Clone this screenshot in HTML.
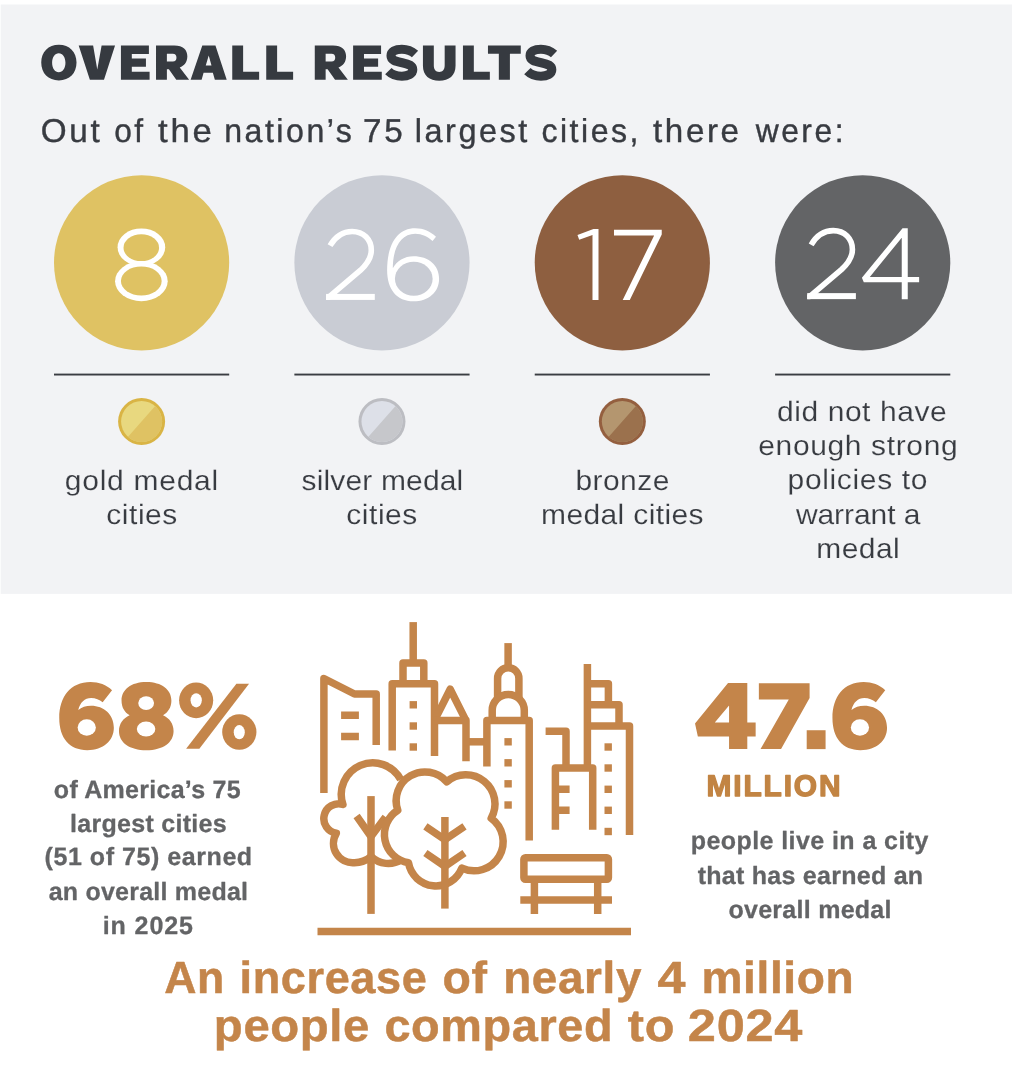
<!DOCTYPE html>
<html><head><meta charset="utf-8"><title>Overall Results</title>
<style>
html,body{margin:0;padding:0;}
body{width:1012px;height:1074px;position:relative;background:#fff;overflow:hidden;font-family:"Liberation Sans",sans-serif;}
svg{position:absolute;left:0;top:0;will-change:transform;}
text{font-family:"Liberation Sans",sans-serif;text-rendering:geometricPrecision;white-space:pre;}
</style></head><body>
<svg width="1012" height="1074" viewBox="0 0 1012 1074">
<title>OVERALL RESULTS</title>
<desc>OVERALL RESULTS. 8 gold medal cities, 26 silver medal cities, 17 bronze medal cities, 24 did not have enough strong policies to warrant a medal. 68% of America’s 75 largest cities earned an overall medal in 2025. 47.6 MILLION people live in a city that has earned an overall medal.</desc>
<rect x="0.7" y="4.5" width="1011.3" height="589.4" fill="#f2f3f5"/>
<circle cx="141.6" cy="262.8" r="87.6" fill="#dfc263"/>
<circle cx="381.97" cy="262.8" r="87.6" fill="#c9ccd4"/>
<circle cx="622.33" cy="262.8" r="87.6" fill="#8e5f40"/>
<circle cx="862.7" cy="262.8" r="87.6" fill="#636466"/>
<rect x="54.00" y="373.6" width="175.2" height="1.9" fill="#3a3d42"/>
<rect x="294.37" y="373.6" width="175.2" height="1.9" fill="#3a3d42"/>
<rect x="534.73" y="373.6" width="175.2" height="1.9" fill="#3a3d42"/>
<rect x="775.10" y="373.6" width="175.2" height="1.9" fill="#3a3d42"/>
<circle cx="141.6" cy="421.5" r="23.5" fill="#d9b445"/>
<clipPath id="mc141"><circle cx="141.6" cy="421.5" r="20.5"/></clipPath>
<g clip-path="url(#mc141)"><rect x="111.6" y="391.5" width="60" height="60" fill="#e8d87f"/><polygon points="181.90,375.70 201.6,381.5 201.6,481.5 81.6,481.5 102.90,465.30" fill="#dfc263"/></g>
<circle cx="381.97" cy="421.5" r="23.5" fill="#bcbdc2"/>
<clipPath id="mc381"><circle cx="381.97" cy="421.5" r="20.5"/></clipPath>
<g clip-path="url(#mc381)"><rect x="351.97" y="391.5" width="60" height="60" fill="#dde0e8"/><polygon points="422.27,375.70 441.97,381.5 441.97,481.5 321.97,481.5 343.27,465.30" fill="#c6c7cb"/></g>
<circle cx="622.33" cy="421.5" r="23.5" fill="#945f3f"/>
<clipPath id="mc622"><circle cx="622.33" cy="421.5" r="20.5"/></clipPath>
<g clip-path="url(#mc622)"><rect x="592.33" y="391.5" width="60" height="60" fill="#b4966f"/><polygon points="662.63,375.70 682.33,381.5 682.33,481.5 562.33,481.5 583.63,465.30" fill="#9b714d"/></g>
<ellipse cx="141.38" cy="247.24" rx="23.81" ry="18.86" fill="#fff"/>
<ellipse cx="141.38" cy="281.23" rx="26.32" ry="19.91" fill="#fff"/>
<ellipse cx="141.30" cy="247.66" rx="17.77" ry="13.41" fill="#dfc263"/>
<ellipse cx="141.30" cy="281.02" rx="20.37" ry="14.50" fill="#dfc263"/>
<clipPath id="two1"><rect x="326.09" y="215.81" width="56.13" height="84.11"/></clipPath><path d="M 330.04,245.69 C 335.10,236.84 343.00,231.46 352.17,231.46 C 363.56,231.46 371.30,239.53 371.30,250.28 C 371.30,258.18 367.19,264.03 360.55,270.20 L 330.83,295.34 L 323.40,301.66" fill="none" stroke="#fff" stroke-width="5.6" stroke-linecap="butt" clip-path="url(#two1)"/><rect x="326.09" y="293.91" width="48.70" height="6.01" fill="#fff"/>
<path d="M 435.99,236.76 C 430.29,231.32 423.59,228.21 415.21,228.21 C 396.76,228.21 387.12,245.15 387.12,270.29 C 387.12,289.57 396.76,301.31 413.53,301.31 C 428.62,301.31 439.09,292.09 439.09,278.68 C 439.09,265.26 428.62,256.21 413.53,256.21 C 404.31,256.21 396.76,261.07 392.82,268.20 C 392.82,247.66 400.96,233.83 415.21,233.83 C 421.91,233.83 427.78,236.76 432.56,241.12 Z" fill="#fff"/>
<ellipse cx="413.78" cy="278.76" rx="18.86" ry="17.10" fill="#c9ccd4"/>
<polygon points="577.47,235.10 593.44,228.93 598.50,228.93 598.50,299.92 592.49,299.92 592.49,235.10 579.21,239.84" fill="#fff"/>
<polygon points="613.99,229.72 661.74,229.72 661.74,234.47 629.80,299.92 622.69,299.92 654.15,235.57 613.99,235.57" fill="#fff"/>
<clipPath id="two2"><rect x="807.19" y="215.02" width="56.13" height="84.11"/></clipPath><path d="M 811.15,244.90 C 816.21,236.05 824.11,230.67 833.28,230.67 C 844.66,230.67 852.41,238.74 852.41,249.49 C 852.41,257.39 848.30,263.24 841.66,269.41 L 811.94,294.55 L 804.51,300.87" fill="none" stroke="#fff" stroke-width="5.6" stroke-linecap="butt" clip-path="url(#two2)"/><rect x="807.19" y="293.12" width="48.70" height="6.01" fill="#fff"/>
<path d="M 902.53,228.14 L 907.75,228.14 L 907.75,277.00 L 919.13,277.00 L 919.13,282.21 L 907.75,282.21 L 907.75,299.13 L 901.74,299.13 L 901.74,282.21 L 863.79,282.21 L 861.90,277.79 Z M 901.74,237.63 L 901.74,277.00 L 869.80,277.00 Z" fill="#fff" fill-rule="evenodd"/>
<path d="M 112.04,690.16 C 106.52,685.02 98.81,682.06 90.46,682.06 C 70.55,682.06 59.25,696.84 59.25,718.03 C 59.25,737.94 69.27,750.14 87.25,750.14 C 103.31,750.14 113.84,740.51 113.84,727.67 C 113.84,714.82 103.95,705.83 91.10,705.83 C 85.97,705.83 81.47,707.37 78.26,709.94 C 80.19,702.62 84.68,698.12 91.10,698.12 C 95.60,698.12 99.45,700.05 102.67,702.36 Z" fill="#c4854a"/><ellipse cx="86.74" cy="727.47" rx="9.12" ry="8.16" fill="#fff"/>
<path d="M 146.34,682.06 C 161.75,682.06 171.39,689.77 171.39,700.69 C 171.39,707.11 168.18,712.25 163.04,715.21 C 169.46,718.03 173.57,723.81 173.57,730.88 C 173.57,742.44 163.04,750.14 146.34,750.14 C 129.64,750.14 118.98,742.44 118.98,730.88 C 118.98,723.81 123.22,718.03 129.64,715.21 C 124.50,712.25 121.55,707.11 121.55,700.69 C 121.55,689.77 130.92,682.06 146.34,682.06 Z" fill="#c4854a"/>
<ellipse cx="146.15" cy="703.07" rx="7.90" ry="6.87" fill="#fff"/>
<ellipse cx="146.08" cy="728.95" rx="9.25" ry="7.45" fill="#fff"/>
<ellipse cx="196.14" cy="700.30" rx="17.05" ry="17.89" fill="#c4854a"/><ellipse cx="196.19" cy="700.35" rx="5.63" ry="7.07" fill="#fff"/>
<ellipse cx="239.32" cy="732.02" rx="17.14" ry="17.79" fill="#c4854a"/><ellipse cx="239.27" cy="732.16" rx="5.53" ry="7.07" fill="#fff"/>
<polygon points="236.40,683.70 249.05,683.70 199.35,748.81 186.11,748.81" fill="#c4854a"/>
<path d="M 728.03,682.96 L 747.30,682.96 L 747.30,722.53 L 755.65,722.53 L 755.65,736.40 L 747.30,736.40 L 747.30,749.12 L 729.06,749.12 L 729.06,736.40 L 697.85,736.40 L 695.02,723.55 Z M 729.06,705.57 L 729.06,722.53 L 714.80,722.53 Z" fill="#c4854a" fill-rule="evenodd"/>
<polygon points="758.86,683.35 809.60,683.35 809.60,698.12 781.08,749.12 760.53,749.12 788.79,699.41 758.86,699.41" fill="#c4854a"/>
<polygon points="806.70,730.23 825.58,730.23 825.58,749.12 806.70,749.12" fill="#c4854a"/>
<path d="M 885.24,690.16 C 879.72,685.02 872.01,682.06 863.66,682.06 C 843.75,682.06 832.45,696.84 832.45,718.03 C 832.45,737.94 842.47,750.14 860.45,750.14 C 876.51,750.14 887.04,740.51 887.04,727.67 C 887.04,714.82 877.15,705.83 864.30,705.83 C 859.17,705.83 854.67,707.37 851.46,709.94 C 853.39,702.62 857.88,698.12 864.30,698.12 C 868.80,698.12 872.65,700.05 875.87,702.36 Z" fill="#c4854a"/><ellipse cx="859.94" cy="727.47" rx="9.12" ry="8.16" fill="#fff"/>
<path d="M 323.9,792.9 L 323.9,678.5 L 354.5,694 L 376.2,694 L 376.2,745" fill="none" stroke="#c4854a" stroke-width="7.5" stroke-linejoin="round" stroke-linecap="butt" />
<path d="M 341.1,715.3 L 358.9,715.3 M 341.1,736.6 L 358.9,736.6" fill="none" stroke="#c4854a" stroke-width="7.5" stroke-linejoin="round" stroke-linecap="butt" />
<path d="M 413.2,622.1 L 413.2,663" fill="none" stroke="#c4854a" stroke-width="7.5" stroke-linejoin="round" stroke-linecap="butt" />
<path d="M 403,683.8 L 403,663 L 423.8,663 L 423.8,683.8" fill="none" stroke="#c4854a" stroke-width="7.5" stroke-linejoin="round" stroke-linecap="butt" />
<path d="M 392.2,750.5 L 392.2,683.8 L 434.5,683.8 L 434.5,755.9" fill="none" stroke="#c4854a" stroke-width="7.5" stroke-linejoin="round" stroke-linecap="butt" />
<rect x="409.60" y="701.10" width="7.4" height="7.4" fill="#c4854a"/>
<rect x="409.60" y="722.30" width="7.4" height="7.4" fill="#c4854a"/>
<rect x="409.60" y="743.30" width="7.4" height="7.4" fill="#c4854a"/>
<path d="M 434.4,720.6 L 450.2,689.2 L 466,720.6" fill="none" stroke="#c4854a" stroke-width="7.5" stroke-linejoin="round" stroke-linecap="butt" />
<path d="M 434.5,720.6 L 466,720.6 L 466,761.2" fill="none" stroke="#c4854a" stroke-width="7.5" stroke-linejoin="round" stroke-linecap="butt" />
<path d="M 466,741.8 L 486.9,741.8" fill="none" stroke="#c4854a" stroke-width="7.5" stroke-linejoin="round" stroke-linecap="butt" />
<path d="M 508.1,643.1 L 508.1,667.5" fill="none" stroke="#c4854a" stroke-width="7.5" stroke-linejoin="round" stroke-linecap="butt" />
<path d="M 497.6,698.3 L 497.6,678.5 A 10.65 10.65 0 0 1 518.9,678.5 L 518.9,698.3" fill="none" stroke="#c4854a" stroke-width="7.5" stroke-linejoin="round" stroke-linecap="butt" />
<path d="M 492.2,720.6 L 492.2,710.5 A 16.05 16.05 0 0 1 524.3,710.5 L 524.3,720.6" fill="none" stroke="#c4854a" stroke-width="7.5" stroke-linejoin="round" stroke-linecap="butt" />
<path d="M 486.9,766.5 L 486.9,720.6 L 529.2,720.6 L 529.2,840.4" fill="none" stroke="#c4854a" stroke-width="7.5" stroke-linejoin="round" stroke-linecap="butt" />
<rect x="504.40" y="738.10" width="7.4" height="7.4" fill="#c4854a"/>
<rect x="504.40" y="759.10" width="7.4" height="7.4" fill="#c4854a"/>
<rect x="504.40" y="780.10" width="7.4" height="7.4" fill="#c4854a"/>
<rect x="504.40" y="801.30" width="7.4" height="7.4" fill="#c4854a"/>
<path d="M 545.6,731.3 L 566,731.3 L 566,768" fill="none" stroke="#c4854a" stroke-width="7.5" stroke-linejoin="round" stroke-linecap="butt" />
<path d="M 587.4,663.9 L 587.4,768" fill="none" stroke="#c4854a" stroke-width="7.5" stroke-linejoin="round" stroke-linecap="butt" />
<path d="M 587.4,683.8 L 608.4,683.8 L 608.4,704.8" fill="none" stroke="#c4854a" stroke-width="7.5" stroke-linejoin="round" stroke-linecap="butt" />
<path d="M 587.4,704.8 L 619,704.8 L 619,726" fill="none" stroke="#c4854a" stroke-width="7.5" stroke-linejoin="round" stroke-linecap="butt" />
<path d="M 587.4,726 L 629.5,726 L 629.5,835" fill="none" stroke="#c4854a" stroke-width="7.5" stroke-linejoin="round" stroke-linecap="butt" />
<rect x="604.50" y="743.30" width="7.4" height="7.4" fill="#c4854a"/>
<rect x="604.50" y="764.30" width="7.4" height="7.4" fill="#c4854a"/>
<rect x="604.50" y="785.60" width="7.4" height="7.4" fill="#c4854a"/>
<rect x="604.50" y="806.60" width="7.4" height="7.4" fill="#c4854a"/>
<rect x="604.50" y="827.80" width="7.4" height="7.4" fill="#c4854a"/>
<path d="M 555.4,829.7 L 555.4,768 L 592.7,768 L 592.7,829.7" fill="none" stroke="#c4854a" stroke-width="7.5" stroke-linejoin="round" stroke-linecap="butt" />
<path d="M 555.4,789.3 L 569.6,789.3 M 555.4,810.3 L 569.6,810.3" fill="none" stroke="#c4854a" stroke-width="7.5" stroke-linejoin="round" stroke-linecap="butt" />
<path d="M 400.72,779.57 A 31.58 31.58 0 0 0 342.91,804.47 A 14.81 14.81 0 1 0 336.33,833.28 A 19.32 19.32 0 0 0 354.47,862.63 A 25.90 25.90 0 0 0 371.01,856.58 A 24.97 24.97 0 0 0 401.60,859.61" fill="none" stroke="#c4854a" stroke-width="7.5" stroke-linejoin="round" stroke-linecap="butt" />
<path d="M 371,796.1 L 371,913.9" fill="none" stroke="#c4854a" stroke-width="7.5" stroke-linejoin="round" stroke-linecap="butt" />
<path d="M 356.6,816 L 371,836.5 L 385.6,817" fill="none" stroke="#c4854a" stroke-width="7.5" stroke-linejoin="round" stroke-linecap="butt" stroke-linejoin="miter"/>
<path d="M 446.70,781.80 A 28.81 28.81 0 0 0 397.79,810.26 A 28.63 28.63 0 0 0 408.46,862.73 A 27.81 27.81 0 0 0 461.82,868.07 A 29.04 29.04 0 0 0 491.17,818.26 A 29.18 29.18 0 0 0 446.70,781.80 Z" fill="#fff" stroke="#c4854a" stroke-width="7.5" stroke-linejoin="round"/>
<path d="M 444.9,817 L 444.9,908.6" fill="none" stroke="#c4854a" stroke-width="7.5" stroke-linejoin="round" stroke-linecap="butt" />
<path d="M 425.4,826.3 L 444.9,839.6 L 464.5,826.3 M 425.4,853 L 444.9,866.3 L 464.5,853" fill="none" stroke="#c4854a" stroke-width="7.5" stroke-linejoin="round" stroke-linecap="butt" stroke-linejoin="miter"/>
<rect x="523.9" y="857.8" width="84.5" height="21.4" rx="1.5" fill="none" stroke="#c4854a" stroke-width="7.5" stroke-linejoin="round" stroke-linecap="butt"/>
<path d="M 520.3,900 L 612,900" fill="none" stroke="#c4854a" stroke-width="7.5" stroke-linejoin="round" stroke-linecap="butt" />
<path d="M 534.4,879 L 534.4,913.9 M 597.7,879 L 597.7,913.9" fill="none" stroke="#c4854a" stroke-width="7.5" stroke-linejoin="round" stroke-linecap="butt" />
<path d="M 317.5,931.6 L 631,931.6" fill="none" stroke="#c4854a" stroke-width="7.5" stroke-linejoin="round" stroke-linecap="butt" />
<path d="M 41.24,62.60 C 41.24,51.87 48.30,44.72 58.88,44.72 C 69.46,44.72 76.52,51.87 76.52,62.60 C 76.52,73.34 69.46,80.49 58.88,80.49 C 48.30,80.49 41.24,73.34 41.24,62.60 Z M 52.11,62.80 C 52.11,57.30 54.91,53.32 58.78,53.32 C 62.65,53.32 65.45,57.30 65.45,62.80 C 65.45,68.30 62.65,72.29 58.78,72.29 C 54.91,72.29 52.11,68.30 52.11,62.80 Z" fill="#363a40" fill-rule="evenodd"/>
<path d="M 78.69,45.41 L 93.12,45.41 L 97.27,69.42 L 101.61,45.41 L 115.05,45.41 L 103.99,79.70 L 89.86,79.70 Z" fill="#363a40" fill-rule="evenodd"/>
<path d="M 120.94,45.41 L 148.90,45.41 L 148.90,54.11 L 131.81,54.11 L 131.81,58.55 L 145.94,58.55 L 145.94,66.85 L 131.81,66.85 L 131.81,71.79 L 149.60,71.79 L 149.60,79.70 L 120.94,79.70 Z" fill="#363a40" fill-rule="evenodd"/>
<path d="M 156.02,45.41 L 174.30,45.41 C 183.19,45.41 187.34,49.86 187.34,56.28 C 187.34,62.21 184.18,65.67 179.74,67.45 L 189.12,79.70 L 176.28,79.70 L 168.87,69.13 L 166.89,69.13 L 166.89,79.70 L 156.02,79.70 Z M 166.89,53.81 L 166.89,61.52 L 172.82,61.52 C 175.29,61.52 176.47,59.94 176.47,57.66 C 176.47,55.29 175.29,53.81 172.82,53.81 Z" fill="#363a40" fill-rule="evenodd"/>
<path d="M 190.64,79.70 L 202.30,45.41 L 215.44,45.41 L 226.71,79.70 L 214.85,79.70 L 212.87,72.78 L 203.58,72.78 L 201.61,79.70 Z M 208.72,55.59 L 211.49,65.47 L 205.76,65.47 Z" fill="#363a40" fill-rule="evenodd"/>
<path d="M 232.25,45.41 L 243.12,45.41 L 243.12,71.79 L 259.13,71.79 L 259.13,79.70 L 232.25,79.70 Z" fill="#363a40" fill-rule="evenodd"/>
<path d="M 266.24,45.41 L 277.11,45.41 L 277.11,71.79 L 293.12,71.79 L 293.12,79.70 L 266.24,79.70 Z" fill="#363a40" fill-rule="evenodd"/>
<path d="M 314.77,45.41 L 333.05,45.41 C 341.94,45.41 346.09,49.86 346.09,56.28 C 346.09,62.21 342.93,65.67 338.49,67.45 L 347.87,79.70 L 335.03,79.70 L 327.62,69.13 L 325.64,69.13 L 325.64,79.70 L 314.77,79.70 Z M 325.64,53.81 L 325.64,61.52 L 331.57,61.52 C 334.04,61.52 335.22,59.94 335.22,57.66 C 335.22,55.29 334.04,53.81 331.57,53.81 Z" fill="#363a40" fill-rule="evenodd"/>
<path d="M 353.11,45.41 L 381.07,45.41 L 381.07,54.11 L 363.98,54.11 L 363.98,58.55 L 378.11,58.55 L 378.11,66.85 L 363.98,66.85 L 363.98,71.79 L 381.77,71.79 L 381.77,79.70 L 353.11,79.70 Z" fill="#363a40" fill-rule="evenodd"/>
<path d="M 415.03,54.01 C 411.08,50.35 406.63,49.17 401.89,49.17 C 395.26,49.17 391.02,51.83 391.02,55.79 C 391.02,60.23 395.26,61.22 402.18,62.70 C 409.10,64.19 412.76,65.67 412.76,69.82 C 412.76,73.77 408.11,76.24 401.89,76.24 C 396.25,76.24 391.81,74.56 388.35,71.10" fill="none" stroke="#363a40" stroke-width="9.09"/>
<path d="M 422.94,45.41 L 433.81,45.41 L 433.81,65.17 C 433.81,69.62 435.79,71.89 439.24,71.89 C 442.70,71.89 444.68,69.62 444.68,65.17 L 444.68,45.41 L 455.55,45.41 L 455.55,65.67 C 455.55,75.55 449.13,80.69 439.24,80.69 C 429.36,80.69 422.94,75.55 422.94,65.67 Z" fill="#363a40" fill-rule="evenodd"/>
<path d="M 462.96,45.41 L 473.83,45.41 L 473.83,71.79 L 489.84,71.79 L 489.84,79.70 L 462.96,79.70 Z" fill="#363a40" fill-rule="evenodd"/>
<path d="M 487.96,45.41 L 520.77,45.41 L 520.77,53.81 L 509.90,53.81 L 509.90,79.70 L 498.83,79.70 L 498.83,53.81 L 487.96,53.81 Z" fill="#363a40" fill-rule="evenodd"/>
<path d="M 554.07,54.01 C 550.12,50.35 545.67,49.17 540.93,49.17 C 534.30,49.17 530.06,51.83 530.06,55.79 C 530.06,60.23 534.30,61.22 541.22,62.70 C 548.14,64.19 551.80,65.67 551.80,69.82 C 551.80,73.77 547.15,76.24 540.93,76.24 C 535.29,76.24 530.85,74.56 527.39,71.10" fill="none" stroke="#363a40" stroke-width="9.09"/>
<g>
<text transform="translate(40.79,142) scale(1.0083,1)" font-size="33.0" font-weight="400" fill="#383b41" letter-spacing="2.600" stroke="#383b41" stroke-width="0.4" stroke-linejoin="round">Out</text>
<text transform="translate(114.13,142) scale(0.9587,1)" font-size="33.0" font-weight="400" fill="#383b41" letter-spacing="2.600" stroke="#383b41" stroke-width="0.4" stroke-linejoin="round">of</text>
<text transform="translate(158.01,142) scale(1.0514,1)" font-size="33.0" font-weight="400" fill="#383b41" letter-spacing="2.600" stroke="#383b41" stroke-width="0.4" stroke-linejoin="round">the</text>
<text transform="translate(224.15,142) scale(0.9726,1)" font-size="33.0" font-weight="400" fill="#383b41" letter-spacing="2.600" stroke="#383b41" stroke-width="0.4" stroke-linejoin="round">nation’s</text>
<text transform="translate(363.09,142) scale(1.0066,1)" font-size="33.0" font-weight="400" fill="#383b41" letter-spacing="2.600" stroke="#383b41" stroke-width="0.4" stroke-linejoin="round">75</text>
<text transform="translate(414.73,142) scale(0.9825,1)" font-size="33.0" font-weight="400" fill="#383b41" letter-spacing="2.600" stroke="#383b41" stroke-width="0.4" stroke-linejoin="round">largest</text>
<text transform="translate(541.42,142) scale(0.9713,1)" font-size="33.0" font-weight="400" fill="#383b41" letter-spacing="2.600" stroke="#383b41" stroke-width="0.4" stroke-linejoin="round">cities,</text>
<text transform="translate(653.00,142) scale(1.0052,1)" font-size="33.0" font-weight="400" fill="#383b41" letter-spacing="2.600" stroke="#383b41" stroke-width="0.4" stroke-linejoin="round">there</text>
<text transform="translate(755.66,142) scale(0.9643,1)" font-size="33.0" font-weight="400" fill="#383b41" letter-spacing="2.600" stroke="#383b41" stroke-width="0.4" stroke-linejoin="round">were:</text>
<text transform="translate(164.26,993) scale(0.9914,1)" font-size="45.0" font-weight="700" fill="#c4854a" letter-spacing="0.600" stroke="#c4854a" stroke-width="0.5" stroke-linejoin="round">An</text>
<text transform="translate(239.54,993) scale(1.0021,1)" font-size="45.0" font-weight="700" fill="#c4854a" letter-spacing="0.600" stroke="#c4854a" stroke-width="0.5" stroke-linejoin="round">increase</text>
<text transform="translate(442.53,993) scale(1.0324,1)" font-size="45.0" font-weight="700" fill="#c4854a" letter-spacing="0.600" stroke="#c4854a" stroke-width="0.5" stroke-linejoin="round">of</text>
<text transform="translate(503.22,993) scale(1.0190,1)" font-size="45.0" font-weight="700" fill="#c4854a" letter-spacing="0.600" stroke="#c4854a" stroke-width="0.5" stroke-linejoin="round">nearly</text>
<text transform="translate(657.48,993) scale(1.1176,1)" font-size="45.0" font-weight="700" fill="#c4854a" letter-spacing="0.600" stroke="#c4854a" stroke-width="0.5" stroke-linejoin="round">4</text>
<text transform="translate(701.41,993) scale(1.0248,1)" font-size="45.0" font-weight="700" fill="#c4854a" letter-spacing="0.600" stroke="#c4854a" stroke-width="0.5" stroke-linejoin="round">million</text>
<text transform="translate(213.86,1041) scale(1.0509,1)" font-size="45.0" font-weight="700" fill="#c4854a" letter-spacing="0.600" stroke="#c4854a" stroke-width="0.5" stroke-linejoin="round">people</text>
<text transform="translate(384.42,1041) scale(1.0408,1)" font-size="45.0" font-weight="700" fill="#c4854a" letter-spacing="0.600" stroke="#c4854a" stroke-width="0.5" stroke-linejoin="round">compared</text>
<text transform="translate(627.87,1041) scale(1.0811,1)" font-size="45.0" font-weight="700" fill="#c4854a" letter-spacing="0.600" stroke="#c4854a" stroke-width="0.5" stroke-linejoin="round">to</text>
<text transform="translate(687.86,1041) scale(1.1225,1)" font-size="45.0" font-weight="700" fill="#c4854a" letter-spacing="0.600" stroke="#c4854a" stroke-width="0.5" stroke-linejoin="round">2024</text>
<text transform="translate(64.85,490) scale(1.0700,1)" font-size="28.0" font-weight="400" fill="#383b41" letter-spacing="0.693" stroke="#f2f3f5" stroke-width="0.15" stroke-linejoin="round">gold medal</text>
<text transform="translate(106.15,524) scale(1.0700,1)" font-size="28.0" font-weight="400" fill="#383b41" letter-spacing="0.550" stroke="#f2f3f5" stroke-width="0.15" stroke-linejoin="round">cities</text>
<text transform="translate(301.52,490) scale(1.0700,1)" font-size="28.0" font-weight="400" fill="#383b41" letter-spacing="0.156" stroke="#f2f3f5" stroke-width="0.15" stroke-linejoin="round">silver medal</text>
<text transform="translate(346.15,524) scale(1.0700,1)" font-size="28.0" font-weight="400" fill="#383b41" letter-spacing="0.550" stroke="#f2f3f5" stroke-width="0.15" stroke-linejoin="round">cities</text>
<text transform="translate(575.45,490) scale(1.0700,1)" font-size="28.0" font-weight="400" fill="#383b41" letter-spacing="0.418" stroke="#f2f3f5" stroke-width="0.15" stroke-linejoin="round">bronze</text>
<text transform="translate(541.05,524) scale(1.0700,1)" font-size="28.0" font-weight="400" fill="#383b41" letter-spacing="0.367" stroke="#f2f3f5" stroke-width="0.15" stroke-linejoin="round">medal cities</text>
<text transform="translate(777.05,421) scale(1.0700,1)" font-size="28.0" font-weight="400" fill="#383b41" letter-spacing="0.535" stroke="#f2f3f5" stroke-width="0.15" stroke-linejoin="round">did not have</text>
<text transform="translate(758.25,455) scale(1.0700,1)" font-size="28.0" font-weight="400" fill="#383b41" letter-spacing="0.611" stroke="#f2f3f5" stroke-width="0.15" stroke-linejoin="round">enough strong</text>
<text transform="translate(787.55,489) scale(1.0700,1)" font-size="28.0" font-weight="400" fill="#383b41" letter-spacing="0.628" stroke="#f2f3f5" stroke-width="0.15" stroke-linejoin="round">policies to</text>
<text transform="translate(795.89,524) scale(1.0700,1)" font-size="28.0" font-weight="400" fill="#383b41" letter-spacing="-0.041" stroke="#f2f3f5" stroke-width="0.15" stroke-linejoin="round">warrant a</text>
<text transform="translate(816.35,558) scale(1.0700,1)" font-size="28.0" font-weight="400" fill="#383b41" letter-spacing="0.406" stroke="#f2f3f5" stroke-width="0.15" stroke-linejoin="round">medal</text>
<text transform="translate(53.85,798)" font-size="25.0" font-weight="700" fill="#636466" letter-spacing="0.273" stroke="#636466" stroke-width="0.3" stroke-linejoin="round">of America’s 75</text>
<text transform="translate(69.95,832)" font-size="25.0" font-weight="700" fill="#636466" letter-spacing="0.296" stroke="#636466" stroke-width="0.3" stroke-linejoin="round">largest cities</text>
<text transform="translate(44.55,865)" font-size="25.0" font-weight="700" fill="#636466" letter-spacing="0.556" stroke="#636466" stroke-width="0.3" stroke-linejoin="round">(51 of 75) earned</text>
<text transform="translate(48.65,900)" font-size="25.0" font-weight="700" fill="#636466" letter-spacing="0.228" stroke="#636466" stroke-width="0.3" stroke-linejoin="round">an overall medal</text>
<text transform="translate(102.65,934)" font-size="25.0" font-weight="700" fill="#636466" letter-spacing="0.921" stroke="#636466" stroke-width="0.3" stroke-linejoin="round">in 2025</text>
<text transform="translate(690.75,849)" font-size="25.0" font-weight="700" fill="#636466" letter-spacing="0.423" stroke="#636466" stroke-width="0.3" stroke-linejoin="round">people live in a city</text>
<text transform="translate(697.65,884)" font-size="25.0" font-weight="700" fill="#636466" letter-spacing="0.269" stroke="#636466" stroke-width="0.3" stroke-linejoin="round">that has earned an</text>
<text transform="translate(728.45,918)" font-size="25.0" font-weight="700" fill="#636466" letter-spacing="0.270" stroke="#636466" stroke-width="0.3" stroke-linejoin="round">overall medal</text>
<text transform="translate(706.55,796)" font-size="29.9" font-weight="700" fill="#c28443" letter-spacing="1.854" stroke="#c28443" stroke-width="1.3" stroke-linejoin="round">MILLION</text>
</g>
</svg>
</body></html>
